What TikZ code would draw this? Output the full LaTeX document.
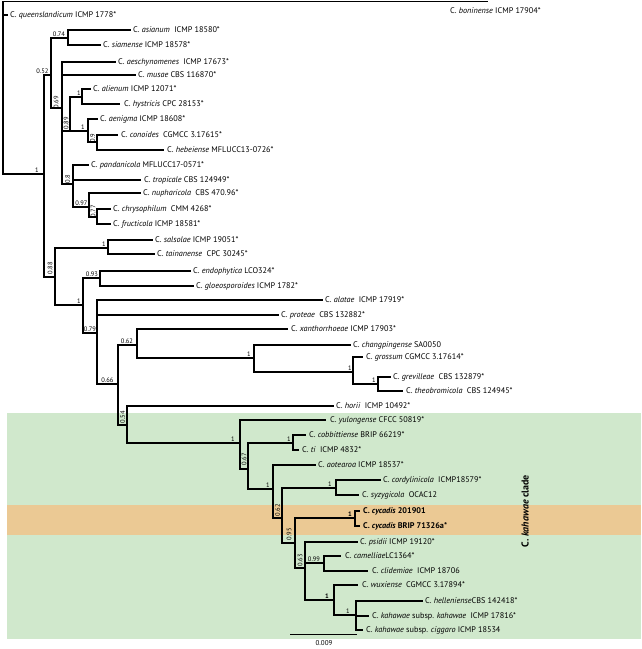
\documentclass[tikz,border=0pt]{standalone}
\usepackage{fontspec}
\setmainfont{PT Sans}
\definecolor{cladegreen}{HTML}{D0E8CC}
\definecolor{cycorange}{HTML}{EBC994}
\newcommand\clv[3]{\draw[br] (#1,#2) -- (#1,#3);}
\newcommand\clh[3]{\draw[br] (#1,#3) -- (#2,#3);}
\newcommand\leafat[6]{\draw[br] (#1,#3) -- (#2,#3); \node[leaf] (#4) at (#5,#3+2.9) {#6};}
\begin{document}
\begin{tikzpicture}[x=1pt,y=-1pt,
  br/.style={line width=1.1pt, line cap=rect},
  leaf/.style={anchor=base west, inner sep=0pt, font=\fontsize{8.2}{9}\selectfont},
  sup/.style={anchor=south, inner sep=0pt, font=\fontsize{6.5}{7}\selectfont},
  bsup/.style={anchor=south, inner sep=0pt, font=\fontsize{6.5}{7}\selectfont\bfseries},
  rsup/.style={rotate=90, inner sep=0pt, font=\fontsize{6.5}{7}\selectfont}]
\useasboundingbox (0,0) rectangle (641,649);
\fill[cladegreen] (7,413) rectangle (641,639);
\fill[cycorange] (7,505) rectangle (641,535);
% root
\clv{3}{1.5}{174}
\clh{3}{487}{1.5}
\node[leaf] (boninense) at (450,13.9) {C. \textit{boninense} ICMP 17904*};
\leafat{3}{7}{15}{queens}{10}{C. \textit{queenslandicum} ICMP 1778*}
\clh{3}{44}{174} \node[sup] (s01) at (37,173) {1};
% upper clade
\clv{44}{75}{277}
\clh{44}{51}{75} \node[sup] (s02) at (42.5,74) {0.52};
\clv{51}{38}{108}
\clh{51}{68}{38} \node[sup] (s03) at (59,37) {0.74};
\clv{68}{30}{45}
\leafat{68}{130}{30}{asianum}{133}{C. \textit{asianum}\ \ ICMP 18580*}
\leafat{68}{100}{45}{siamense}{103}{C. \textit{siamense} ICMP 18578*}
\clh{51}{62}{108} \node[rsup] (s04) at (56,102) {0.69};
\clv{62}{62}{184}
\leafat{62}{115}{62}{aeschy}{118}{C. \textit{aeschynomenes}\ \ ICMP 17673*}
\leafat{62}{135}{75}{musae}{138}{C. \textit{musae} CBS 116870*}
\clh{62}{70}{131} \node[rsup] (s05) at (66,123) {0.89};
\clv{70}{97}{131}
\clh{70}{82}{97} \node[sup] (s06) at (79,96) {1};
\clv{82}{89}{104}
\leafat{82}{90}{89}{alienum}{93}{C. \textit{alienum} ICMP 12071*}
\leafat{82}{119}{104}{hystricis}{124}{C. \textit{hystricis} CPC 28153*}
\clh{70}{88}{131} \node[sup] (s07) at (83,130) {1};
\clv{88}{119}{142}
\leafat{88}{97}{119}{aenigma}{100}{C. \textit{aenigma} ICMP 18608*}
\clh{88}{97}{142} \node[rsup] (s08) at (92.5,138) {0.9};
\clv{97}{135}{150}
\leafat{97}{117}{135}{conoides}{121}{C. \textit{conoides}\ \ CGMCC 3.17615*}
\leafat{97}{163}{150}{hebeiense}{167}{C. \textit{hebeiense} MFLUCC13-0726*}
\clh{62}{73}{184} \node[rsup] (s09) at (67.5,179) {0.8};
\clv{73}{165}{207}
\leafat{73}{88}{165}{pandan}{91}{C. \textit{pandanicola} MFLUCC17-0571*}
\leafat{73}{140}{180}{tropicale}{144}{C. \textit{tropicale} CBS 124949*}
\clh{73}{89}{207} \node[sup] (s10) at (81.5,206) {0.97};
\clv{89}{193}{217}
\leafat{89}{140}{193}{nuphar}{143}{C. \textit{nupharicola}\ \ CBS 470.96*}
\clh{89}{97}{217} \node[rsup] (s11) at (93,211) {0.77};
\clv{97}{209}{224}
\leafat{97}{110}{209}{chryso}{113}{C. \textit{chrysophilum}\ \ CMM 4268*}
\leafat{97}{110}{224}{fructi}{113}{C. \textit{fructicola} ICMP 18581*}
% 0.88 clade
\clh{44}{55}{277} \node[rsup] (s12) at (50,268) {0.88};
\clv{55}{248}{305}
\clh{55}{108}{248} \node[sup] (s13) at (104,247) {1};
\clv{108}{240}{254}
\leafat{108}{152}{240}{salsolae}{155}{C. \textit{salsolae} ICMP 19051*}
\leafat{108}{154}{254}{tainan}{157}{C. \textit{tainanense}\ \ CPC 30245*}
\clh{55}{83}{305} \node[sup] (s14) at (79,304) {1};
\clv{83}{278}{333}
\clh{83}{100}{278} \node[sup] (s15) at (92,277) {0.93};
\clv{100}{271}{286}
\leafat{100}{190}{271}{endo}{193}{C. \textit{endophytica} LCO324*}
\leafat{100}{193}{286}{gloeo}{196}{C. \textit{gloeosporoides} ICMP 1782*}
\clh{83}{97}{333} \node[sup] (s16) at (90,332) {0.79};
\clv{97}{300}{384}
\leafat{97}{322}{300}{alatae}{325}{C. \textit{alatae}\ \ ICMP 17919*}
\leafat{97}{278}{315}{proteae}{281}{C. \textit{proteae}\ \ CBS 132882*}
\clh{97}{118}{384} \node[sup] (s17) at (107.5,383) {0.66};
\clv{118}{345}{425}
\clh{118}{137}{345} \node[sup] (s18) at (127,344) {0.62};
\clv{137}{329}{358}
\leafat{137}{287}{329}{xantho}{291}{C. \textit{xanthorrhoeae} ICMP 17903*}
\clh{137}{254}{358} \node[sup] (s19) at (249,357) {1};
\clv{254}{345}{372}
\leafat{254}{350}{345}{changp}{353}{C. \textit{changpingense} SA0050}
\clh{254}{353}{372} \node[sup] (s20) at (350,371) {1};
\clv{353}{357}{384}
\leafat{353}{362}{357}{grossum}{366}{C. \textit{grossum} CGMCC 3.17614*}
\clh{353}{378}{384} \node[sup] (s21) at (374,383) {1};
\clv{378}{377}{391}
\leafat{378}{390}{377}{grevill}{393}{C. \textit{grevilleae}\ \ CBS 132879*}
\leafat{378}{402}{391}{theob}{406}{C. \textit{theobromicola}\ \ CBS 124945*}
\clh{118}{127}{425} \node[rsup] (s22) at (122.5,417) {0.54};
\clv{127}{406}{443}
\leafat{127}{333}{406}{horii}{336}{C. \textit{horii}\ \ ICMP 10492*}
% kahawae clade
\clh{127}{240}{443} \node[sup] (s23) at (233,442) {1};
\clv{240}{420}{469}
\leafat{240}{325}{420}{yulong}{330}{C. \textit{yulongense} CFCC 50819*}
\clh{240}{248}{469} \node[rsup] (s24) at (244,459) {0.67};
\clv{248}{443}{489}
\clh{248}{293}{443} \node[sup] (s25) at (289,442) {1};
\clv{293}{435}{450}
\leafat{293}{305}{435}{cobbit}{309}{C. \textit{cobbittiense} BRIP 66219*}
\leafat{293}{298}{450}{ti}{302}{C. \textit{ti}\ \ ICMP 4832*}
\clh{248}{273}{489} \node[sup] (s26) at (268,488) {1};
\clv{273}{465}{518}
\leafat{273}{315}{465}{aotearoa}{318}{C. \textit{aotearoa} ICMP 18537*}
\clh{273}{282}{518} \node[rsup] (s27) at (277.5,510) {0.62};
\clv{282}{488}{543}
\clh{282}{336}{488} \node[sup] (s28) at (330,487) {1};
\clv{336}{480}{495}
\leafat{336}{380}{480}{cordy}{383}{C. \textit{cordylinicola}\ \ ICMP18579*}
\leafat{336}{358}{495}{syzyg}{362}{C. \textit{syzygicola}\ \ OCAC12}
\clh{282}{295}{543} \node[rsup] (s29) at (289,534) {0.95};
\clv{295}{518}{568}
\clh{295}{355}{518} \node[bsup] (s30) at (350,517) {1};
\clv{355}{511}{526}
\leafat{355}{359}{511}{cyc1}{363}{\textbf{C. \textit{cycadis} 201901}}
\leafat{355}{359}{526}{cyc2}{363}{\textbf{C. \textit{cycadis} BRIP 71326a*}}
\clh{295}{305}{568} \node[rsup] (s31) at (300,560) {0.63};
\clv{305}{542}{600}
\leafat{305}{357}{542}{psidii}{360}{C. \textit{psidii} ICMP 19120*}
\clh{305}{324}{563} \node[sup] (s32) at (314,562) {0.99};
\clv{324}{556}{571}
\leafat{324}{340}{556}{camel}{345}{C. \textit{camelliae}LC1364*}
\leafat{324}{367}{571}{clidem}{372}{C. \textit{clidemiae}\ \ ICMP 18706}
\clh{305}{334}{600} \node[bsup] (s33) at (327,599) {1};
\clv{334}{585}{615}
\leafat{334}{357}{585}{wux}{362}{C. \textit{wuxiense}\ \ CGMCC 3.17894*}
\clh{334}{356}{615} \node[sup] (s34) at (348,614) {1};
\clv{356}{601}{630}
\leafat{356}{422}{601}{hellen}{425}{C. \textit{helleniense}CBS 142418*}
\leafat{356}{368}{616}{kahaw}{372}{C. \textit{kahawae} subsp. \textit{kahawae}\ \ ICMP 17816*}
\leafat{356}{362}{630}{cigg}{366}{C. \textit{kahawae} subsp. \textit{ciggaro} ICMP 18534}
% scale bar
\coordinate (sb1) at (290,634);
\coordinate (sb2) at (357,634);
\draw[line width=0.8pt] (sb1) -- (sb2);
\node[inner sep=0pt, font=\fontsize{7}{8}\selectfont] (scale) at (324,643) {0.009};
% clade label
\node[rotate=90, inner sep=0pt, font=\fontsize{10}{11}\selectfont\bfseries] (cladelabel) at (525,511) {C. \textit{kahawae} clade};
\end{tikzpicture}
\end{document}
